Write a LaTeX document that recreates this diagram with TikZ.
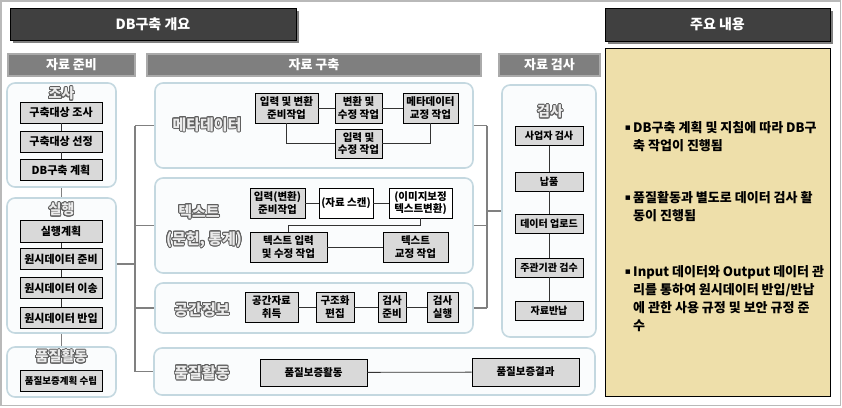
\documentclass[tikz,border=0pt]{standalone}
\usepackage{fontspec}
\setmainfont{Noto Sans CJK KR}
\newfontfamily\djv{DejaVu Sans}
\usepackage[copies]{contour}
\contourlength{0.9pt}
\usetikzlibrary{calc,shadows}
\definecolor{grpb}{RGB}{196,216,224}
\definecolor{grpf}{RGB}{250,252,253}
\definecolor{boxf}{RGB}{217,217,217}
\definecolor{hdrf}{RGB}{127,127,127}
\definecolor{hdrb}{RGB}{170,170,170}
\definecolor{darkf}{RGB}{64,64,64}
\definecolor{yel}{RGB}{238,223,170}
\definecolor{busc}{RGB}{128,128,128}
\definecolor{ttlo}{RGB}{95,95,95}
\definecolor{ttlf}{RGB}{236,236,236}
\definecolor{framec}{RGB}{185,185,185}
\newcommand{\ttlfx}[1]{\contour{ttlo}{\textcolor{ttlf}{#1}}}
\tikzset{
  box/.style={draw=black, line width=0.8pt, fill=boxf, inner sep=0pt, align=center,
    font=\bfseries\fontsize{10.5}{12.5}\selectfont},
  lbox/.style={box, minimum width=82pt, font=\bfseries\fontsize{11}{13}\selectfont},
  kbox/.style={box, minimum width=68pt, minimum height=19pt, font=\bfseries\fontsize{10}{12}\selectfont},
  wbox/.style={box, fill=white},
  grp/.style={draw=grpb, line width=1.6pt, fill=grpf, rounded corners=8pt, inner sep=0pt},
  hdr/.style={draw=hdrb, line width=2.5pt, fill=hdrf, text=white, inner sep=0pt,
    minimum height=22pt, font=\bfseries\fontsize{13}{15}\selectfont},
  darkbox/.style={draw=black, line width=0.8pt, fill=darkf, text=white, inner sep=0pt,
    font=\bfseries\fontsize{14}{16}\selectfont,
    drop shadow={shadow xshift=3pt, shadow yshift=-3pt, fill=busc, opacity=1}},
  conn/.style={draw=black!80, line width=0.8pt},
  busln/.style={draw=busc, line width=1.8pt},
  ttl/.style={inner sep=0pt, font=\bfseries\fontsize{15}{17}\selectfont},
  sttl/.style={inner sep=0pt, font=\bfseries\fontsize{14}{16}\selectfont},
  bul/.style={inner sep=0pt, font=\djv\fontsize{9}{10}\selectfont},
  btxt/.style={inner sep=0pt, anchor=north west, align=left,
    font=\bfseries\fontsize{13}{18}\selectfont}
}
\begin{document}
\begin{tikzpicture}[x=1pt,y=-1pt]
\useasboundingbox (0,0) rectangle (842,407);
\draw[framec, line width=1.5pt] (1,1) rectangle (840.5,405.5);

% dark title boxes
\node[darkbox, minimum width=286pt, minimum height=32pt] (dk1) at (153,24) {DB구축 개요};
\node[darkbox, minimum width=225pt, minimum height=33pt] (dk2) at (717.5,24.5) {주요 내용};

% header bars
\node[hdr, minimum width=127pt] (h1) at (71.5,65) {자료 준비};
\node[hdr, minimum width=334pt] (h2) at (314,65) {자료 구축};
\node[hdr, minimum width=101pt] (h3) at (549.5,65) {자료 검사};

% yellow summary box
\node[draw=black, line width=1pt, fill=yel, minimum width=225pt, minimum height=348pt, inner sep=0pt] (yb) at (717.5,222) {};

% groups
\node[grp, minimum width=109pt, minimum height=104pt] (gA) at (61.5,135) {};
\node[grp, minimum width=109pt, minimum height=135pt] (gB) at (61.5,265.5) {};
\node[grp, minimum width=109pt, minimum height=50pt] (gC) at (61.5,372) {};
\node[grp, minimum width=318pt, minimum height=85pt] (gM) at (314,125.5) {};
\node[grp, minimum width=318pt, minimum height=95pt] (gT) at (314,225.5) {};
\node[grp, minimum width=318pt, minimum height=50pt] (gS) at (314,308) {};
\node[grp, minimum width=441pt, minimum height=47pt] (gQ) at (374.5,371.5) {};
\node[grp, minimum width=94pt, minimum height=252pt] (gK) at (549,211) {};

% group titles
\node[sttl] (tA) at (61.5,94) {\ttlfx{조사}};
\node[sttl] (tB) at (61.5,210) {\ttlfx{실행}};
\node[sttl] (tC) at (61.5,357) {\ttlfx{품질활동}};
\node[ttl] (tM) at (207,125) {\ttlfx{메타데이터}};
\node[ttl] (tT1) at (199,212) {\ttlfx{텍스트}};
\node[ttl] (tT2) at (204,240) {\ttlfx{(문헌, 통계)}};
\node[ttl] (tS) at (202,310) {\ttlfx{공간정보}};
\node[ttl] (tQ) at (202,373) {\ttlfx{품질활동}};
\node[sttl] (tK) at (550,112) {\ttlfx{검사}};

% left boxes
\node[lbox, minimum height=21pt] (a1) at (61,112.5) {구축대상 조사};
\node[lbox, minimum height=21pt] (a2) at (61,141.5) {구축대상 선정};
\node[lbox, minimum height=21pt] (a3) at (61,170) {DB구축 계획};
\node[lbox, minimum height=22pt] (a4) at (61,231.5) {실행계획};
\node[lbox, minimum height=21pt] (a5) at (61,259) {원시데이터 준비};
\node[lbox, minimum height=21pt] (a6) at (61,288) {원시데이터 이송};
\node[lbox, minimum height=21pt] (a7) at (61,318) {원시데이터 반입};
\node[lbox, minimum height=21pt, font=\bfseries\fontsize{9.5}{11}\selectfont] (a8) at (61,380.5) {품질보증계획 수립};

% metadata boxes
\node[box, minimum width=63pt, minimum height=30pt] (m1) at (286.5,108) {입력 및 변환\\준비작업};
\node[box, minimum width=47pt, minimum height=30pt] (m2) at (358.5,108) {변환 및\\수정 작업};
\node[box, minimum width=55pt, minimum height=30pt] (m3) at (430.5,108) {메타데이터\\교정 작업};
\node[box, minimum width=47pt, minimum height=29pt] (m4) at (358.5,143.5) {입력 및\\수정 작업};

% text boxes
\node[box, minimum width=55pt, minimum height=30pt] (t1) at (277.5,203) {입력(변환)\\준비작업};
\node[wbox, minimum width=54pt, minimum height=30pt] (t2) at (346,203) {(자료 스캔)};
\node[wbox, minimum width=63pt, minimum height=30pt] (t3) at (420.5,203) {(이미지보정\\텍스트변환)};
\node[box, minimum width=77pt, minimum height=30pt] (t4) at (288.5,247) {텍스트 입력\\및 수정 작업};
\node[box, minimum width=65pt, minimum height=30pt] (t5) at (415.5,247) {텍스트\\교정 작업};

% spatial boxes
\node[box, minimum width=53pt, minimum height=30pt] (s1) at (271.5,307) {공간자료\\취득};
\node[box, minimum width=38pt, minimum height=30pt] (s2) at (335,307) {구조화\\편집};
\node[box, minimum width=28pt, minimum height=30pt] (s3) at (392,307) {검사\\준비};
\node[box, minimum width=31pt, minimum height=30pt] (s4) at (442.5,307) {검사\\실행};

% quality boxes
\node[box, minimum width=107pt, minimum height=27pt] (q1) at (313.5,372.5) {품질보증활동};
\node[box, minimum width=107pt, minimum height=28pt] (q2) at (525.5,372) {품질보증결과};

% check boxes
\node[kbox] (k1) at (549,136) {사업자 검사};
\node[kbox] (k2) at (549,181.5) {납품};
\node[kbox] (k3) at (549,224) {데이터 업로드};
\node[kbox] (k4) at (549,267.5) {주관기관 검수};
\node[kbox] (k5) at (549,311) {자료반납};

% inner connectors
\draw[conn] (a1) -- (a2);
\draw[conn] (a2) -- (a3);
\draw[conn] (a4) -- (a5);
\draw[conn] (a5) -- (a6);
\draw[conn] (a6) -- (a7);
\draw[conn] (m1) -- (m2);
\draw[conn] (m2) -- (m3);
\draw[conn] (m1.south) |- (m4.west);
\draw[conn] (m4.east) -| (m3.south);
\draw[conn] (t1) -- (t2);
\draw[conn] (t2) -- (t3);
\draw[conn] (t3.south) -- ++(0,7) -| (t4.north);
\draw[conn] (t4) -- (t5);
\draw[conn] (s1) -- (s2);
\draw[conn] (s2) -- (s3);
\draw[conn] (s3) -- (s4);
\draw[conn] (q1) -- (q2);
\draw[conn] (k1) -- (k2);
\draw[conn] (k2) -- (k3);
\draw[conn] (k3) -- (k4);
\draw[conn] (k4) -- (k5);

% bus connectors
\draw[busln, line width=1.4pt] (gA.south) -- (gB.north);
\draw[busln, line width=1.4pt] (gB.south) -- (gC.north);
\coordinate (L) at (135,264);
\coordinate (R) at (487,211);
\draw[busln] (gB.east |- L) -- (L);
\draw[busln] (L |- gM.west) -- (L |- gQ.west);
\draw[busln] (L |- gM.west) -- (gM.west);
\draw[busln] (L |- gT.west) -- (gT.west);
\draw[busln] (L |- gS.west) -- (gS.west);
\draw[busln] (L |- gQ.west) -- (gQ.west);
\draw[busln] (gM.east) -- (gM.east -| R);
\draw[busln] (gT.east) -- (gT.east -| R);
\draw[busln] (gS.east) -- (gS.east -| R);
\draw[busln] (R |- gM.east) -- (R |- gS.east);
\draw[busln] (R) -- (gK.west);

% summary bullets
\node[bul] (p1) at (628,128) {▪};
\node[btxt] (n1) at (633,121.5) {DB구축 계획 및 지침에 따라 DB구\\축 작업이 진행됨};
\node[bul] (p2) at (628,198) {▪};
\node[btxt] (n2) at (633,191.5) {품질활동과 별도로 데이터 검사 활\\동이 진행됨};
\node[bul] (p3) at (628,272) {▪};
\node[btxt] (n3) at (633,265.5) {Input 데이터와 Output 데이터 관\\리를 통하여 원시데이터 반입/반납\\에 관한 사용 규정 및 보안 규정 준\\수};
\end{tikzpicture}
\end{document}
